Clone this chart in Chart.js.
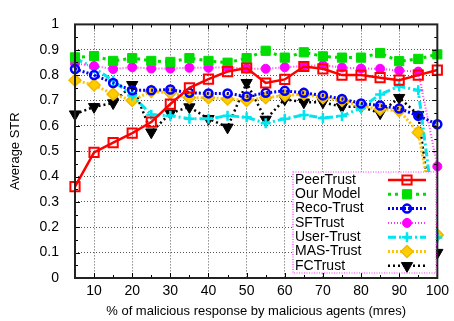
<!DOCTYPE html>
<html>
<head>
<meta charset="utf-8">
<script src="https://cdn.jsdelivr.net/npm/chart.js@4"></script>
<style>
  html, body { margin: 0; padding: 0; background: #fff; }
  #wrap { width: 454px; height: 321px; }
</style>
</head>
<body>
<div id="wrap"><canvas id="chart" width="454" height="321"></canvas></div>
<script>
// x positions (% malicious response)
const mres = [5, 10, 15, 20, 25, 30, 35, 40, 45, 50, 55, 60, 65, 70, 75, 80, 85, 90, 95, 100];

// values
const peerTrust = [0.36, 0.495, 0.534, 0.571, 0.615, 0.686, 0.75, 0.784, 0.814, 0.828, 0.769, 0.783, 0.834, 0.825, 0.80, 0.80, 0.79, 0.78, 0.80, 0.82];
const ourModel  = [0.87, 0.875, 0.856, 0.867, 0.856, 0.852, 0.867, 0.856, 0.849, 0.867, 0.896, 0.869, 0.89, 0.874, 0.869, 0.869, 0.887, 0.855, 0.864, 0.882];
const recoTrust = [0.824, 0.80, 0.769, 0.74, 0.74, 0.743, 0.73, 0.728, 0.728, 0.716, 0.73, 0.738, 0.73, 0.72, 0.706, 0.688, 0.68, 0.668, 0.64, 0.606];
const sfTrust   = [0.846, 0.836, 0.824, 0.831, 0.826, 0.826, 0.829, 0.829, 0.831, 0.826, 0.825, 0.831, 0.836, 0.839, 0.83, 0.826, 0.825, 0.818, 0.814, 0.44];
const userTrust = [0.867, 0.828, 0.778, 0.72, 0.644, 0.64, 0.628, 0.628, 0.64, 0.634, 0.61, 0.628, 0.643, 0.631, 0.639, 0.67, 0.724, 0.756, 0.74, 0.16];
const masTrust  = [0.78, 0.761, 0.725, 0.70, 0.736, 0.73, 0.711, 0.711, 0.706, 0.70, 0.711, 0.72, 0.725, 0.711, 0.70, 0.678, 0.665, 0.66, 0.574, 0.17];
const fcTrust   = [0.646, 0.675, 0.69, 0.762, 0.575, 0.65, 0.674, 0.628, 0.594, 0.77, 0.625, 0.705, 0.693, 0.693, 0.675, 0.675, 0.65, 0.711, 0.644, 0.10];

const seriesNames = ["PeerTrust", "Our Model", "Reco-Trust", "SFTrust", "User-Trust", "MAS-Trust", "FCTrust"];
const xTicks = [10, 20, 30, 40, 50, 60, 70, 80, 90, 100];
const yTicks = [0, 0.1, 0.2, 0.3, 0.4, 0.5, 0.6, 0.7, 0.8, 0.9, 1];
const yTickLabels = ["0", "0.1", "0.2", "0.3", "0.4", "0.5", "0.6", "0.7", "0.8", "0.9", "1"];

const FONT = "'Liberation Sans', Arial, sans-serif";

function series(i, values, style) {
    return Object.assign({
        label: seriesNames[i],
        data: values.map((v, k) => ({ x: mres[k], y: v })),
        fill: false,
        tension: 0,
        clip: false,
    }, style);
}

const datasets = [
    series(0, peerTrust, { borderColor: "#ff0000", borderWidth: 2.5, pointStyle: "rect", pointRadius: 6.5,
        pointBorderWidth: 2, pointBackgroundColor: "rgba(255,255,255,0)", pointBorderColor: "#ff0000" }),
    series(1, ourModel, { borderColor: "#00dd00", borderWidth: 3, borderDash: [3, 4], pointStyle: "rect", pointRadius: 6.5,
        pointBorderWidth: 1, pointBackgroundColor: "#00dd00", pointBorderColor: "#00dd00" }),
    series(2, recoTrust, { borderColor: "#0000ff", borderWidth: 3, borderDash: [2, 2], pointStyle: "circle", pointRadius: 4,
        pointBorderWidth: 2.5, pointBackgroundColor: "rgba(255,255,255,0)", pointBorderColor: "#0000ff" }),
    series(3, sfTrust, { borderColor: "#ff33ff", borderWidth: 2, borderDash: [1, 2], pointStyle: "circle", pointRadius: 4.5,
        pointBorderWidth: 1, pointBackgroundColor: "#ff00ff", pointBorderColor: "#ff00ff" }),
    series(4, userTrust, { borderColor: "#00e5ee", borderWidth: 3, borderDash: [8, 3, 2, 3], pointStyle: "cross", pointRadius: 5,
        pointBorderWidth: 2.5, pointBackgroundColor: "#00e5ee", pointBorderColor: "#00e5ee" }),
    series(5, masTrust, { borderColor: "#ffc400", borderWidth: 3, borderDash: [2, 2], pointStyle: "rectRot", pointRadius: 6,
        pointBorderWidth: 1.5, pointBackgroundColor: "#ffcc00", pointBorderColor: "#f0b800" }),
    series(6, fcTrust, { borderColor: "#000000", borderWidth: 2.5, borderDash: [2, 3], pointStyle: "triangle", pointRotation: 180,
        pointRadius: 6.5, pointBorderWidth: 1, pointBackgroundColor: "#000000", pointBorderColor: "#000000" }),
];

// gnuplot-like frame with inward ticks
const framePlugin = {
    id: "frame",
    afterDatasetsDraw(chart) {
        const { ctx, chartArea: a, scales } = chart;
        ctx.save();
        ctx.strokeStyle = "#000";
        ctx.lineWidth = 1;
        ctx.beginPath();
        for (let v = 5; v <= 100; v += 5) {
            const px = Math.round(scales.x.getPixelForValue(v)) + 0.5;
            const len = v % 10 === 0 ? 5 : 3;
            ctx.moveTo(px, a.bottom); ctx.lineTo(px, a.bottom - len);
            ctx.moveTo(px, a.top); ctx.lineTo(px, a.top + len);
        }
        for (let k = 0; k <= 20; k++) {
            const py = Math.round(scales.y.getPixelForValue(k * 0.05)) + 0.5;
            const len = k % 2 === 0 ? 5 : 3;
            ctx.moveTo(a.left, py); ctx.lineTo(a.left + len, py);
            ctx.moveTo(a.right, py); ctx.lineTo(a.right - len, py);
        }
        ctx.stroke();
        ctx.lineWidth = 2;
        ctx.strokeStyle = "#222";
        ctx.strokeRect(a.left, a.top, a.right - a.left, a.bottom - a.top);
        ctx.restore();
    },
    afterDraw(chart) {
        // legend box in the lower right, gnuplot style (text first, then sample)
        const { ctx } = chart;
        const box = { x: 293, y: 172, w: 143, h: 101 };
        ctx.save();
        ctx.fillStyle = "#fff";
        ctx.fillRect(box.x, box.y, box.w, box.h);
        ctx.strokeStyle = "#ff33ff";
        ctx.lineWidth = 1.2;
        ctx.setLineDash([1, 1.5]);
        ctx.strokeRect(box.x, box.y, box.w, box.h);
        const rowH = 14.3;
        chart.data.datasets.forEach((ds, i) => {
            const cy = box.y + 8 + i * rowH;
            ctx.fillStyle = "#000";
            ctx.font = "14px " + FONT;
            ctx.textBaseline = "middle";
            ctx.textAlign = "left";
            ctx.fillText(ds.label, box.x + 2, cy);
            ctx.strokeStyle = ds.borderColor;
            ctx.lineWidth = ds.borderWidth;
            ctx.setLineDash(ds.borderDash || []);
            ctx.beginPath();
            ctx.moveTo(388, cy); ctx.lineTo(426, cy);
            ctx.stroke();
            ctx.setLineDash([]);
            ctx.fillStyle = ds.pointBackgroundColor;
            ctx.strokeStyle = ds.pointBorderColor;
            ctx.lineWidth = ds.pointBorderWidth;
            Chart.helpers.drawPoint(ctx, {
                pointStyle: ds.pointStyle, rotation: ds.pointRotation || 0,
                radius: ds.pointRadius, borderWidth: ds.pointBorderWidth
            }, 407, cy);
        });
        ctx.restore();
    }
};

new Chart(document.getElementById("chart"), {
    type: "line",
    data: { datasets },
    plugins: [framePlugin],
    options: {
        responsive: false,
        animation: false,
        devicePixelRatio: 1,
        layout: { padding: { top: 13, right: 12, left: 0, bottom: 0 } },
        plugins: {
            legend: { display: false },
            tooltip: { enabled: false },
        },
        scales: {
            x: {
                type: "linear",
                min: 5,
                max: 100,
                afterBuildTicks: (scale) => { scale.ticks = xTicks.map((v) => ({ value: v })); },
                afterFit: (scale) => { scale.height = 43; },
                ticks: {
                    color: "#000",
                    font: { family: FONT, size: 14 },
                    padding: 5,
                    maxRotation: 0,
                    autoSkip: false,
                    callback: (v) => String(v),
                },
                grid: { color: "#555", lineWidth: 1, drawTicks: false },
                border: { display: false, dash: [1, 2] },
                title: {
                    display: true,
                    text: "% of malicious response by malicious agents (mres)",
                    color: "#000",
                    font: { family: FONT, size: 13 },
                    padding: { top: 0, bottom: 2 },
                },
            },
            y: {
                min: 0,
                max: 1,
                afterBuildTicks: (scale) => { scale.ticks = yTicks.map((v) => ({ value: v })); },
                afterFit: (scale) => { scale.width = 75; },
                ticks: {
                    color: "#000",
                    font: { family: FONT, size: 14 },
                    padding: 16,
                    autoSkip: false,
                    callback: (v, i) => yTickLabels[i],
                },
                grid: { color: "#555", lineWidth: 1, drawTicks: false },
                border: { display: false, dash: [1, 2] },
                title: {
                    display: true,
                    text: "Average STR",
                    color: "#000",
                    font: { family: FONT, size: 13 },
                    padding: { top: 8, bottom: 0 },
                },
            },
        },
    },
});
</script>
</body>
</html>
